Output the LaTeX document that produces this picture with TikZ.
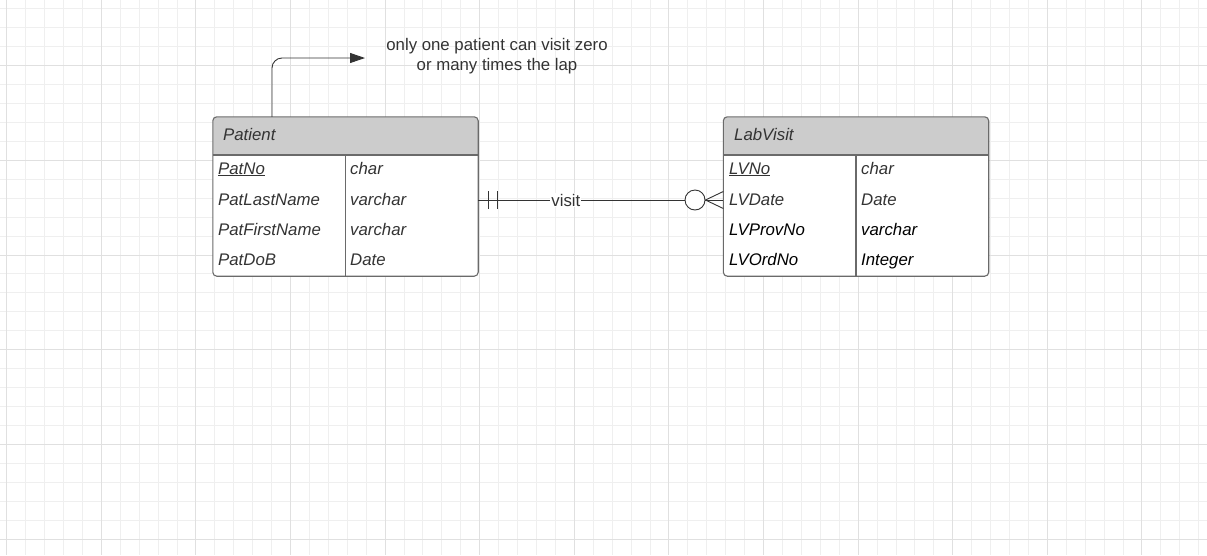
\documentclass[tikz,border=0pt]{standalone}
\usepackage{fontspec}
\setmainfont{Liberation Sans}
\usetikzlibrary{arrows.meta}
\definecolor{txtgray}{HTML}{333333}
\definecolor{hdrgray}{HTML}{CCCCCC}
\definecolor{edgegray}{HTML}{6A6A6A}
\definecolor{gridminor}{HTML}{EFEFEF}
\definecolor{gridmajor}{HTML}{E0E0E0}
\tikzset{
  entity/.style={fill=white, minimum width=265pt, minimum height=159pt, inner sep=0pt},
  frame/.style={draw=edgegray, line width=1.1pt},
  field/.style={anchor=west, inner sep=0pt, text height=12pt, text depth=0pt,
    font=\fontsize{16.8}{19}\selectfont\itshape, text=txtgray},
  rel/.style={draw=txtgray, line width=0.9pt},
  lbl/.style={inner sep=1pt, font=\fontsize{16.8}{19.3}\selectfont, text=txtgray},
}
\begin{document}
\begin{tikzpicture}[x=1pt,y=-1pt]
    \useasboundingbox (0,0) rectangle (1207,555);
    \fill[white] (0,0) rectangle (1207,555);

    \foreach \i in {0,...,63}
        \draw[gridminor, line width=0.9pt] ({6.7+18.92*\i},0) -- ({6.7+18.92*\i},555);
    \foreach \j in {0,...,29}
        \draw[gridminor, line width=0.9pt] (0,{8.9+18.93*\j}) -- (1207,{8.9+18.93*\j});
    \foreach \i in {0,...,12}
        \draw[gridmajor, line width=0.9pt] ({6.7+94.6*\i},0) -- ({6.7+94.6*\i},555);
    \foreach \j in {0,...,5}
        \draw[gridmajor, line width=0.9pt] (0,{65.7+94.66*\j}) -- (1207,{65.7+94.66*\j});

    \coordinate (hb) at (0,155);
    \coordinate (ry) at (0,200);
    \coordinate (ft) at (0,191.5);
    \coordinate (fb) at (0,208.5);
    \coordinate (an) at (272,0);
    \coordinate (tip) at (365,58);

    \node[entity] (patient) at (345.5,196.5) {};
    \begin{scope}
        \clip[rounded corners=4pt] (patient.north west) rectangle (patient.south east);
        \fill[hdrgray] (patient.north west) rectangle (patient.east |- hb);
    \end{scope}
    \draw[frame] (patient.west |- hb) -- (patient.east |- hb);
    \draw[frame] (patient.center |- hb) -- (patient.south);
    \draw[frame, rounded corners=4pt] (patient.north west) rectangle (patient.south east);

    \node[entity] (labvisit) at (856,196.5) {};
    \begin{scope}
        \clip[rounded corners=4pt] (labvisit.north west) rectangle (labvisit.south east);
        \fill[hdrgray] (labvisit.north west) rectangle (labvisit.east |- hb);
    \end{scope}
    \draw[frame] (labvisit.west |- hb) -- (labvisit.east |- hb);
    \draw[frame] (labvisit.center |- hb) -- (labvisit.south);
    \draw[frame, rounded corners=4pt] (labvisit.north west) rectangle (labvisit.south east);

    \node[field] (pathead) at (223,134) {Patient};
    \node[field] (patno) at (218,168) {\underline{PatNo}};
    \node[field] (patlast) at (218,199) {PatLastName};
    \node[field] (patfirst) at (218,229) {PatFirstName};
    \node[field] (patdob) at (218,259) {PatDoB};
    \node[field] (patnoty) at (350,168) {char};
    \node[field] (patlastty) at (350,199) {varchar};
    \node[field] (patfirstty) at (350,229) {varchar};
    \node[field] (patdobty) at (350,259) {Date};

    \node[field] (lvhead) at (734,134) {LabVisit};
    \node[field] (lvno) at (729,168) {\underline{LVNo}};
    \node[field] (lvdate) at (729,199) {LVDate};
    \node[field, text=black] (lvprov) at (729,229) {LVProvNo};
    \node[field, text=black] (lvord) at (729,259) {LVOrdNo};
    \node[field] (lvnoty) at (861,168) {char};
    \node[field] (lvdatety) at (861,199) {Date};
    \node[field, text=black] (lvprovty) at (861,229) {varchar};
    \node[field, text=black] (lvordty) at (861,259) {Integer};

    \node[circle, rel, fill=white, minimum size=20pt, inner sep=0pt] (zero) at (695,200) {};
    \draw[rel] (patient.east |- ry) -- node[lbl, pos=0.425, fill=white] (visit) {visit} (zero.west);
    \draw[rel] (488,191) -- (488,209);
    \draw[rel] (497,191) -- (497,209);
    \draw[rel] (zero.east) -- (labvisit.west |- ft);
    \draw[rel] (zero.east) -- (labvisit.west |- ry);
    \draw[rel] (zero.east) -- (labvisit.west |- fb);

    \draw[rel, -{Triangle[length=15pt,width=10pt]}, rounded corners=10pt] (patient.north -| an) |- (tip);
    \node[lbl, inner sep=0pt, align=center] (note) at (497,56.1) {only one patient can visit zero\\or many times the lap};
\end{tikzpicture}
\end{document}
